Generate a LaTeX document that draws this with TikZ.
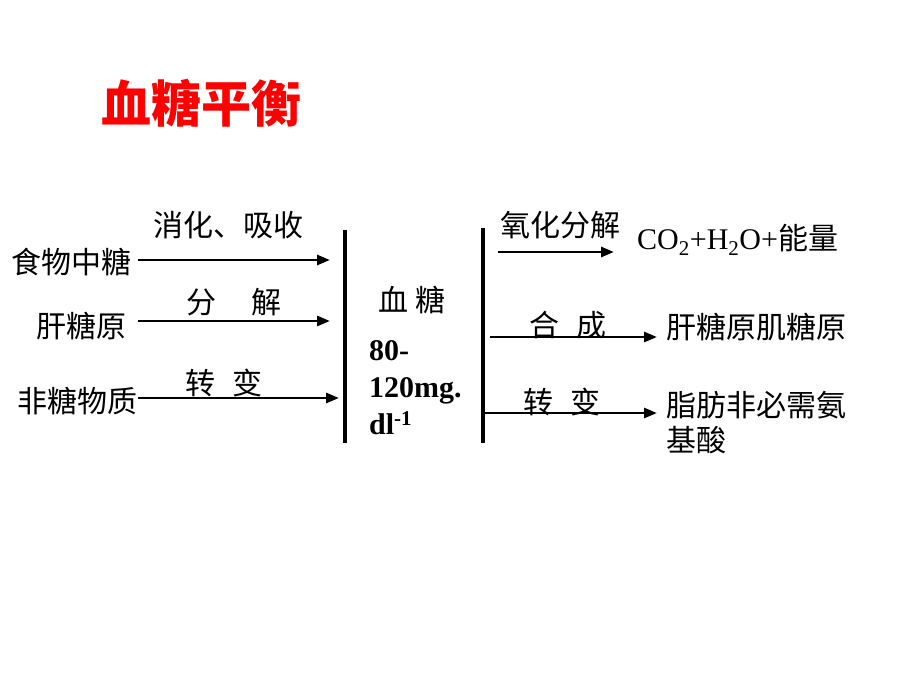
\documentclass[tikz,border=0pt]{standalone}
\usepackage{fontspec}
\setmainfont{Liberation Serif}
\newfontfamily\cjk{Noto Sans CJK SC}
\usetikzlibrary{arrows.meta}
\begin{document}
\begin{tikzpicture}[x=1pt,y=-1pt]
\tikzset{every node/.style={inner sep=0pt},
         word/.style={font=\cjk\fontsize{30}{34}\selectfont},
         flow/.style={line width=2.8pt,-{Triangle[length=13pt,width=10pt]}},
         bar/.style={line width=4.5pt}}
\useasboundingbox (0,0) rectangle (920,690);
\node[font=\cjk\bfseries\fontsize{50}{54}\selectfont,text=red] (title) at (201,103) {血糖平衡};
% bars
\coordinate (ltop) at (345,230);
\coordinate (lbot) at (345,443);
\coordinate (rtop) at (483,228);
\coordinate (rbot) at (483,443);
\draw[bar] (ltop) -- (lbot);
\draw[bar] (rtop) -- (rbot);
% sources
\node[word,anchor=east] (food) at (132,262) {食物中糖};
\node[word,anchor=east] (liver) at (127,326) {肝糖原};
\node[word,anchor=east] (other) at (138,401) {非糖物质};
\coordinate (s1) at (138,260);
\coordinate (e1) at (330,260);
\coordinate (s2) at (138,321);
\coordinate (e2) at (330,321);
\coordinate (s3) at (138,398);
\coordinate (e3) at (339,398);
\draw[flow] (s1) -- (e1);
\draw[flow] (s2) -- (e2);
\draw[flow] (s3) -- (e3);
\node[word] (l1) at (228,225) {消化、吸收};
\node[word] (l2) at (234,302) {分\hspace{1.2em}解};
\node[word] (l3) at (224,383) {转\hspace{0.55em}变};
% blood sugar
\node[word] (sugar) at (412,300) {血\hspace{0.25em}糖};
\node[font=\bfseries\fontsize{30}{37}\selectfont,align=left,anchor=north west] (level) at (369,340)
  {80-\\120mg.\\dl\textsuperscript{-1}};
% outputs
\coordinate (s4) at (498,252);
\coordinate (e4) at (614,252);
\coordinate (s5) at (490,337);
\coordinate (e5) at (657,337);
\coordinate (s6) at (485,413);
\coordinate (e6) at (657,413);
\draw[flow] (s4) -- (e4);
\draw[flow] (s5) -- (e5);
\draw[flow] (s6) -- (e6);
\node[word] (l4) at (560,225) {氧化分解};
\node[word] (l5) at (568,325) {合\hspace{0.55em}成};
\node[word] (l6) at (562,402) {转\hspace{0.55em}变};
\node[font=\fontsize{30}{34}\selectfont,anchor=west] (energy) at (637,240)
  {CO\textsubscript{2}+H\textsubscript{2}O+{\cjk 能量}};
\node[word,anchor=west] (glycogen) at (666,327) {肝糖原肌糖原};
\node[word,anchor=north west,align=left,font=\cjk\fontsize{30}{35}\selectfont] (fat) at (666,391) {脂肪非必需氨\\基酸};
\end{tikzpicture}
\end{document}
